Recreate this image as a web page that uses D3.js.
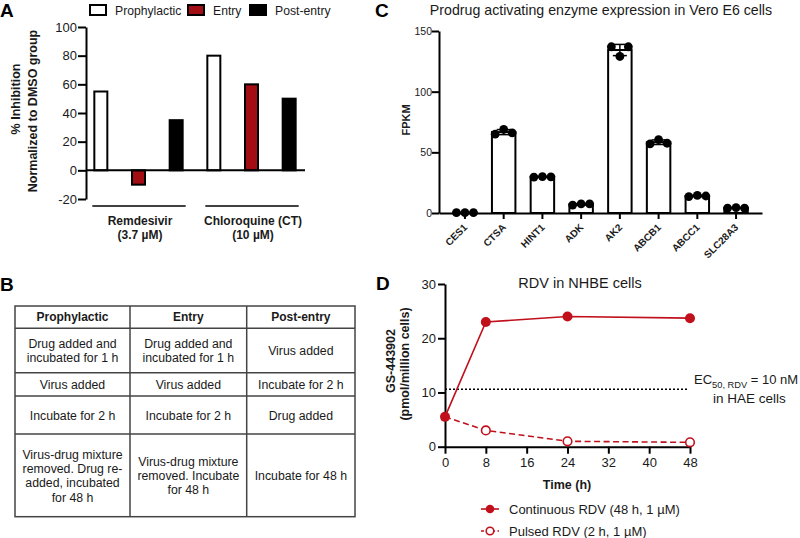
<!DOCTYPE html>
<html>
<head>
<meta charset="utf-8">
<script src="https://cdn.jsdelivr.net/npm/d3@7/dist/d3.min.js"></script>
<style>
  body { margin: 0; background: #fff; }
  svg { display: block; font-family: "Liberation Sans", Arial, Helvetica, sans-serif; }
</style>
</head>
<body>
<svg id="fig" width="800" height="538"></svg>
<script>
// ---------- Panel A data ----------
const treatmentsA = ["Prophylactic", "Entry", "Post-entry"];
const groupsA = ["Remdesivir", "Chloroquine (CT)"];
const dosesA = ["(3.7 µM)", "(10 µM)"];
const inhibitionRemdesivir = [55, -10, 35];
const inhibitionChloroquine = [80, 60, 50];
const ticksA = [-20, 0, 20, 40, 60, 80, 100];

// ---------- Panel B data ----------
const tableHeaders = ["Prophylactic", "Entry", "Post-entry"];
const tableRows = [
  [["Drug added and", "incubated for 1 h"], ["Drug added and", "incubated for 1 h"], ["Virus added"]],
  [["Virus added"], ["Virus added"], ["Incubate for 2 h"]],
  [["Incubate for 2 h"], ["Incubate for 2 h"], ["Drug added"]],
  [["Virus-drug mixture", "removed. Drug re-", "added, incubated", "for 48 h"],
   ["Virus-drug mixture", "removed. Incubate", "for 48 h"],
   ["Incubate for 48 h"]]
];

// ---------- Panel C data ----------
const genesC = ["CES1", "CTSA", "HINT1", "ADK", "AK2", "ABCB1", "ABCC1", "SLC28A3"];
const fpkmRep1 = [0.3, 65, 29.6, 6.5, 137, 57, 13.5, 4];
const fpkmRep2 = [0.3, 69, 30, 7.5, 129, 60.5, 14.5, 4.5];
const fpkmRep3 = [0.3, 66, 29.8, 7.5, 137, 57.5, 14, 4];
const ticksC = [0, 50, 100, 150];

// ---------- Panel D data ----------
const timeD = [0, 8, 24, 48];
const continuousD = [5.5, 23, 24, 23.7];
const pulsedD = [5.5, 3, 1, 0.8];
const ec50Level = 10.6;
const ticksDx = [0, 8, 16, 24, 32, 40, 48];
const ticksDy = [0, 10, 20, 30];

const svg = d3.select("#fig");
const RED_A = "#a30d14";
const RED_D = "#c0101c";
const INK = "#1a1a1a";
const FONT = "Liberation Sans, Arial, sans-serif";
const plain = d => String(d);

// Panel letters
[["A", 0, 17], ["B", 0, 291], ["C", 375, 17], ["D", 376, 290]].forEach(([t, x, y]) => {
  svg.append("text").attr("x", x).attr("y", y).attr("font-size", 19).attr("font-weight", "bold")
    .attr("fill", "#000").text(t);
});

// ================= Panel A =================
(function () {
  const gA = svg.append("g");
  const y = d3.scaleLinear().domain([-20, 100]).range([199, 27]);
  const keys = [];
  groupsA.forEach((g, gi) => treatmentsA.forEach((t, ti) => keys.push(gi + "-" + ti)));
  const x = d3.scaleBand().domain(keys).range([82, 308]).paddingInner(0.655).paddingOuter(0.3275);
  const fills = ["#fff", RED_A, "#000"];
  const values = [inhibitionRemdesivir, inhibitionChloroquine];
  const bars = [];
  values.forEach((vals, gi) => vals.forEach((v, ti) => bars.push({ key: gi + "-" + ti, v, ti })));

  gA.selectAll("rect.bar").data(bars).enter().append("rect")
    .attr("x", d => x(d.key))
    .attr("width", x.bandwidth())
    .attr("y", d => y(Math.max(0, d.v)))
    .attr("height", d => Math.abs(y(d.v) - y(0)))
    .attr("fill", d => fills[d.ti])
    .attr("stroke", "#000").attr("stroke-width", 2);

  const ax = gA.append("g").attr("transform", "translate(86,0)")
    .call(d3.axisLeft(y).tickValues(ticksA).tickFormat(plain).tickSize(8).tickSizeOuter(0));
  ax.select(".domain").attr("stroke", "#000").attr("stroke-width", 2);
  ax.selectAll(".tick line").attr("stroke", "#000").attr("stroke-width", 2);
  ax.selectAll(".tick text").attr("font-size", 13).attr("fill", INK).attr("font-family", FONT).attr("x", -9);

  gA.append("line").attr("x1", 86).attr("x2", 305).attr("y1", y(0)).attr("y2", y(0))
    .attr("stroke", "#000").attr("stroke-width", 2);

  groupsA.forEach((g, gi) => {
    const x0 = x(gi + "-0") - 2, x1 = x(gi + "-2") + x.bandwidth() + 3;
    gA.append("line").attr("x1", x0).attr("x2", x1).attr("y1", 206).attr("y2", 206)
      .attr("stroke", "#000").attr("stroke-width", 1.5);
    const cx = (x0 + x1) / 2 + 1;
    gA.append("text").attr("x", cx).attr("y", 225).attr("text-anchor", "middle")
      .attr("font-size", 12).attr("font-weight", "bold").attr("fill", INK).text(g);
    gA.append("text").attr("x", cx).attr("y", 239).attr("text-anchor", "middle")
      .attr("font-size", 12).attr("font-weight", "bold").attr("fill", INK).text(dosesA[gi]);
  });

  gA.append("text").attr("transform", "translate(20,99) rotate(-90)").attr("text-anchor", "middle")
    .attr("font-size", 12.5).attr("font-weight", "bold").attr("fill", INK).text("% Inhibition");
  gA.append("text").attr("transform", "translate(37,111) rotate(-90)").attr("text-anchor", "middle")
    .attr("font-size", 12.5).attr("font-weight", "bold").attr("fill", INK).text("Normalized to DMSO group");

  const legX = [90, 188, 250];
  treatmentsA.forEach((t, i) => {
    gA.append("rect").attr("x", legX[i]).attr("y", 5).attr("width", 16).attr("height", 10)
      .attr("fill", fills[i]).attr("stroke", "#000").attr("stroke-width", 2);
    gA.append("text").attr("x", legX[i] + 25).attr("y", 15).attr("font-size", 12.2).attr("fill", INK).text(t);
  });
})();

// ================= Panel B =================
(function () {
  const gB = svg.append("g");
  const colX = [15, 130, 246.7, 355];
  const rowY = [306, 328.3, 372.7, 396, 434, 516.7];
  const lh = 14.3;
  gB.append("rect").attr("x", colX[0]).attr("y", rowY[0]).attr("width", colX[3] - colX[0])
    .attr("height", rowY[5] - rowY[0]).attr("fill", "none").attr("stroke", "#444").attr("stroke-width", 1.5);
  colX.slice(1, 3).forEach(cx => gB.append("line").attr("x1", cx).attr("x2", cx).attr("y1", rowY[0]).attr("y2", rowY[5])
    .attr("stroke", "#444").attr("stroke-width", 1.5));
  rowY.slice(1, 5).forEach(ry => gB.append("line").attr("x1", colX[0]).attr("x2", colX[3]).attr("y1", ry).attr("y2", ry)
    .attr("stroke", "#444").attr("stroke-width", 1.5));
  tableHeaders.forEach((h, c) => {
    gB.append("text").attr("x", (colX[c] + colX[c + 1]) / 2).attr("y", (rowY[0] + rowY[1]) / 2 + 4.3)
      .attr("text-anchor", "middle").attr("font-size", 12).attr("font-weight", "bold").attr("fill", INK).text(h);
  });
  tableRows.forEach((row, r) => {
    const cy = (rowY[r + 1] + rowY[r + 2]) / 2 + 0.5;
    row.forEach((lines, c) => {
      const cx = (colX[c] + colX[c + 1]) / 2;
      lines.forEach((ln, li) => {
        const yy = cy + (li - (lines.length - 1) / 2) * lh + 4.3;
        gB.append("text").attr("x", cx).attr("y", yy).attr("text-anchor", "middle")
          .attr("font-size", 12.3).attr("fill", INK).text(ln);
      });
    });
  });
})();

// ================= Panel C =================
(function () {
  const gC = svg.append("g");
  const y = d3.scaleLinear().domain([0, 150]).range([213, 31]);
  const x = d3.scaleBand().domain(genesC).range([439, 762]).paddingInner(0.394).paddingOuter(0.367);
  const data = genesC.map((g, i) => {
    const reps = [fpkmRep1[i], fpkmRep2[i], fpkmRep3[i]];
    const mean = d3.mean(reps), sd = d3.deviation(reps);
    return { g, reps, mean, sd };
  });
  gC.selectAll("rect.bar").data(data).enter().append("rect")
    .attr("x", d => x(d.g)).attr("width", x.bandwidth())
    .attr("y", d => y(d.mean)).attr("height", d => y(0) - y(d.mean))
    .attr("fill", "#fff").attr("stroke", "#000").attr("stroke-width", 2);
  data.forEach(d => {
    const cx = x(d.g) + x.bandwidth() / 2;
    const lo = y(d.mean - d.sd), hi = y(d.mean + d.sd);
    gC.append("line").attr("x1", cx).attr("x2", cx).attr("y1", lo).attr("y2", hi).attr("stroke", "#000").attr("stroke-width", 1.5);
    [lo, hi].forEach(yy => gC.append("line").attr("x1", cx - 7).attr("x2", cx + 7).attr("y1", yy).attr("y2", yy)
      .attr("stroke", "#000").attr("stroke-width", 1.5));
  });
  const offs = [-8.5, 0, 8.5];
  data.forEach(d => {
    const cx = x(d.g) + x.bandwidth() / 2;
    gC.selectAll(null).data(d.reps).enter().append("circle")
      .attr("cx", (v, i) => cx + offs[i]).attr("cy", v => y(v)).attr("r", 4.4).attr("fill", "#000");
  });
  const ay = gC.append("g").attr("transform", "translate(439,0)")
    .call(d3.axisLeft(y).tickValues(ticksC).tickFormat(plain).tickSize(7).tickSizeOuter(0));
  ay.select(".domain").attr("stroke", "#000").attr("stroke-width", 2);
  ay.selectAll(".tick line").attr("stroke", "#000").attr("stroke-width", 2);
  ay.selectAll(".tick text").attr("font-size", 10.5).attr("fill", INK).attr("x", -7).attr("font-family", FONT);
  const axx = gC.append("g").attr("transform", "translate(0,213)")
    .call(d3.axisBottom(x).tickSize(6).tickSizeOuter(0));
  axx.select(".domain").attr("stroke", "#000").attr("stroke-width", 2);
  axx.selectAll(".tick line").attr("stroke", "#000").attr("stroke-width", 2);
  axx.selectAll(".tick text").attr("font-size", 10).attr("font-weight", "bold").attr("fill", INK)
    .attr("font-family", FONT)
    .attr("text-anchor", "end").attr("x", 0).attr("y", 0).attr("dy", 0)
    .attr("transform", "translate(3,15) rotate(-45)");
  gC.append("text").attr("x", 601).attr("y", 14.5).attr("text-anchor", "middle").attr("font-size", 14.2)
    .attr("fill", INK).text("Prodrug activating enzyme expression in Vero E6 cells");
  gC.append("text").attr("transform", "translate(410,120) rotate(-90)").attr("text-anchor", "middle")
    .attr("font-size", 11).attr("font-weight", "bold").attr("fill", INK).text("FPKM");
})();

// ================= Panel D =================
(function () {
  const gD = svg.append("g");
  const x = d3.scaleLinear().domain([0, 48]).range([445, 690]);
  const y = d3.scaleLinear().domain([0, 30]).range([446.7, 284]);

  gD.append("line").attr("x1", x(0)).attr("x2", 688).attr("y1", y(ec50Level)).attr("y2", y(ec50Level))
    .attr("stroke", "#000").attr("stroke-width", 1.5).attr("stroke-dasharray", "2,2");

  const line = d3.line().x(d => x(d[0])).y(d => y(d[1]));
  const cont = timeD.map((t, i) => [t, continuousD[i]]);
  const puls = timeD.map((t, i) => [t, pulsedD[i]]);

  const ay = gD.append("g").attr("transform", "translate(445,0)")
    .call(d3.axisLeft(y).tickValues(ticksDy).tickFormat(plain).tickSize(7).tickSizeOuter(0));
  ay.select(".domain").attr("stroke", "#000").attr("stroke-width", 2);
  ay.selectAll(".tick line").attr("stroke", "#000").attr("stroke-width", 2);
  ay.selectAll(".tick text").attr("font-size", 13).attr("fill", INK).attr("x", -9).attr("font-family", FONT);
  const ax = gD.append("g").attr("transform", "translate(0,446.7)")
    .call(d3.axisBottom(x).tickValues(ticksDx).tickFormat(plain).tickSize(7).tickSizeOuter(0));
  ax.select(".domain").attr("stroke", "#000").attr("stroke-width", 2);
  ax.selectAll(".tick line").attr("stroke", "#000").attr("stroke-width", 2);
  ax.selectAll(".tick text").attr("font-size", 13).attr("fill", INK).attr("y", 11).attr("font-family", FONT);

  gD.append("path").datum(puls).attr("d", line).attr("fill", "none").attr("stroke", RED_D)
    .attr("stroke-width", 1.6).attr("stroke-dasharray", "6,3.5");
  gD.append("path").datum(cont).attr("d", line).attr("fill", "none").attr("stroke", RED_D).attr("stroke-width", 1.6);
  gD.selectAll("circle.p").data(puls.slice(1)).enter().append("circle")
    .attr("cx", d => x(d[0])).attr("cy", d => y(d[1])).attr("r", 4.3)
    .attr("fill", "#fff").attr("stroke", RED_D).attr("stroke-width", 1.6);
  gD.selectAll("circle.c").data(cont).enter().append("circle")
    .attr("cx", d => x(d[0])).attr("cy", d => y(d[1])).attr("r", 5)
    .attr("fill", RED_D);

  gD.append("text").attr("x", 580).attr("y", 287.5).attr("text-anchor", "middle").attr("font-size", 14.5)
    .attr("fill", INK).text("RDV in NHBE cells");
  gD.append("text").attr("x", 567).attr("y", 489).attr("text-anchor", "middle").attr("font-size", 12.5)
    .attr("font-weight", "bold").attr("fill", INK).text("Time (h)");
  gD.append("text").attr("transform", "translate(395,361) rotate(-90)").attr("text-anchor", "middle")
    .attr("font-size", 12.5).attr("font-weight", "bold").attr("fill", INK).text("GS-443902");
  gD.append("text").attr("transform", "translate(409,364) rotate(-90)").attr("text-anchor", "middle")
    .attr("font-size", 12.5).attr("font-weight", "bold").attr("fill", INK).text("(pmol/million cells)");

  const ec = gD.append("text").attr("x", 694).attr("y", 384).attr("font-size", 13).attr("fill", INK);
  ec.append("tspan").text("EC");
  ec.append("tspan").attr("font-size", 9.3).attr("dy", 4).text("50, RDV");
  ec.append("tspan").attr("dy", -4).text(" = 10 nM");
  gD.append("text").attr("x", 713).attr("y", 403).attr("font-size", 13.5).attr("fill", INK).text("in HAE cells");

  const legY = [509, 531];
  const legTxt = ["Continuous RDV (48 h, 1 µM)", "Pulsed RDV (2 h, 1 µM)"];
  legY.forEach((ly, i) => {
    gD.append("line").attr("x1", 481).attr("x2", 499).attr("y1", ly).attr("y2", ly).attr("stroke", RED_D)
      .attr("stroke-width", 1.6).attr("stroke-dasharray", i ? "3,2.5" : null);
    gD.append("circle").attr("cx", 490).attr("cy", ly).attr("r", i ? 3.8 : 4.3)
      .attr("fill", i ? "#fff" : RED_D).attr("stroke", RED_D).attr("stroke-width", i ? 1.6 : 0);
    gD.append("text").attr("x", 509).attr("y", ly + 4.5).attr("font-size", 13).attr("fill", INK).text(legTxt[i]);
  });
})();
</script>
</body>
</html>
